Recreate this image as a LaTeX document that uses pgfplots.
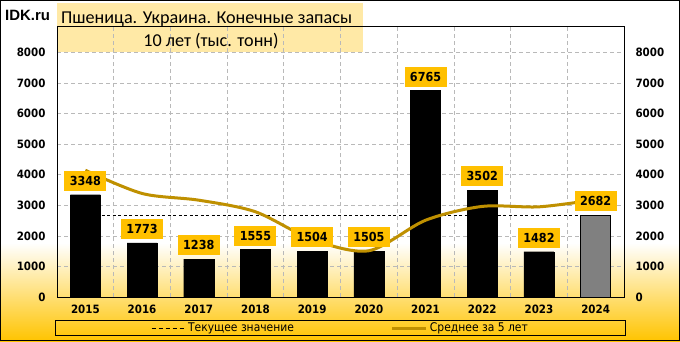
\documentclass[border=0pt]{standalone}
\usepackage{pgfplots}
\pgfplotsset{compat=1.18}
\usepackage{fontspec}
\setmainfont{DejaVu Sans}[FakeStretch=0.9]
\newfontfamily\calfont{Carlito}
\newfontfamily\arifont{Liberation Sans}
\definecolor{gold}{RGB}{255,192,0}
\definecolor{bgold}{RGB}{255,196,0}
\definecolor{avg}{RGB}{191,144,0}
\definecolor{ttl}{RGB}{255,233,166}
\definecolor{grd}{RGB}{185,185,185}
\definecolor{barg}{RGB}{128,128,128}
\pgfplotsset{
  common/.style={
    at={(57bp,44bp)}, anchor=south west, scale only axis,
    width=567bp, height=270bp,
    xmin=-0.5, xmax=9.5, ymin=0, ymax=8840,
    ytick={0,1000,2000,3000,4000,5000,6000,7000,8000},
    major tick length=0, minor tick length=0,
    axis line style={black, line width=1bp},
    tick label style={font=\bfseries\fontsize{11.5}{12}\selectfont},
    /pgf/number format/assume math mode=true,
    /pgf/number format/1000 sep={},
  }
}
\begin{document}
\begin{tikzpicture}[x=1bp,y=1bp]
\useasboundingbox (0,0) rectangle (680,341);
\fill[white] (0,0) rectangle (680,341);
\shade[top color=white, bottom color=bgold] (0,0) rectangle (680,98);
\fill[ttl] (57,314) rectangle (363,338);
\fill[ttl] (57,289) rectangle (363,314);

\begin{axis}[common,
  xtick={0,1,2,3,4,5,6,7,8,9},
  xticklabels={2015,2016,2017,2018,2019,2020,2021,2022,2023,2024},
  minor xtick={0.5,1.5,2.5,3.5,4.5,5.5,6.5,7.5,8.5},
  xminorgrids, ymajorgrids,
  major grid style={grd, dash pattern=on 4bp off 3bp, line width=0.75bp},
  minor grid style={grd, dash pattern=on 4bp off 3bp, line width=0.75bp},
  yticklabel style={xshift=-8bp},
  xticklabel style={yshift=-4bp},
  legend columns=2,
  legend image code/.code={\draw[#1] (0bp,0bp) -- (34bp,0bp);},
  legend style={at={(0.5,-0.1148)}, anchor=center, draw=black, line width=0.75bp,
    fill=none, font=\fontsize{12}{13}\selectfont, inner xsep=96bp, inner ysep=0bp,
    /tikz/every even column/.append style={column sep=95bp}},
]
\addplot[black, dash pattern=on 3bp off 2.5bp, line width=1bp,
  legend image post style={dash pattern=on 4bp off 3bp}] coordinates {(0,2682) (9,2682)};
\addlegendentry{Текущее значение}
\addplot[ybar, bar width=0.53, bar shift=0pt, fill=black, draw=black, forget plot]
  coordinates {(0,3348) (1,1773) (2,1238) (3,1555) (4,1504) (5,1505) (6,6765) (7,3502) (8,1482)};
\addplot[ybar, bar width=0.53, bar shift=0pt, fill=barg, draw=black, line width=0.75bp, forget plot]
  coordinates {(9,2682)};
\addplot[avg, line width=3bp, smooth] coordinates
  {(0,4150) (1,3390) (2,3170) (3,2790) (4,1884) (5,1515) (6,2513) (7,2966) (8,2952) (9,3187)};
\addlegendentry{Среднее за 5 лет}
\addplot[draw=none, mark=none, forget plot, nodes near coords,
  nodes near coords style={anchor=south, yshift=3.6bp, fill=gold, text=black,
    font=\bfseries\fontsize{12.5}{13}\selectfont, minimum width=42bp, minimum height=20bp, inner sep=0pt}]
  coordinates {(0,3348) (1,1773) (2,1238) (3,1555) (4,1504) (5,1505) (6,6765) (7,3502) (8,1482) (9,2682)};
\end{axis}

\begin{axis}[common,
  axis x line=none, axis y line*=right,
  yticklabel style={xshift=8bp},
]
\addplot[draw=none] coordinates {(0,0)};
\end{axis}

\node[anchor=base west, font=\calfont\fontsize{18.2}{20}\selectfont, inner sep=0] at (61,318) {Пшеница. Украина. Конечные запасы};
\node[anchor=base, font=\calfont\fontsize{18.2}{20}\selectfont, inner sep=0] at (211,294.5) {10 лет (тыс. тонн)};
\node[anchor=base west, font=\arifont\bfseries\fontsize{15}{16}\selectfont, inner sep=0] at (5,321) {IDK.ru};
\draw[black, line width=1bp] (0.5,0.5) rectangle (679.5,340.5);
\end{tikzpicture}
\end{document}
